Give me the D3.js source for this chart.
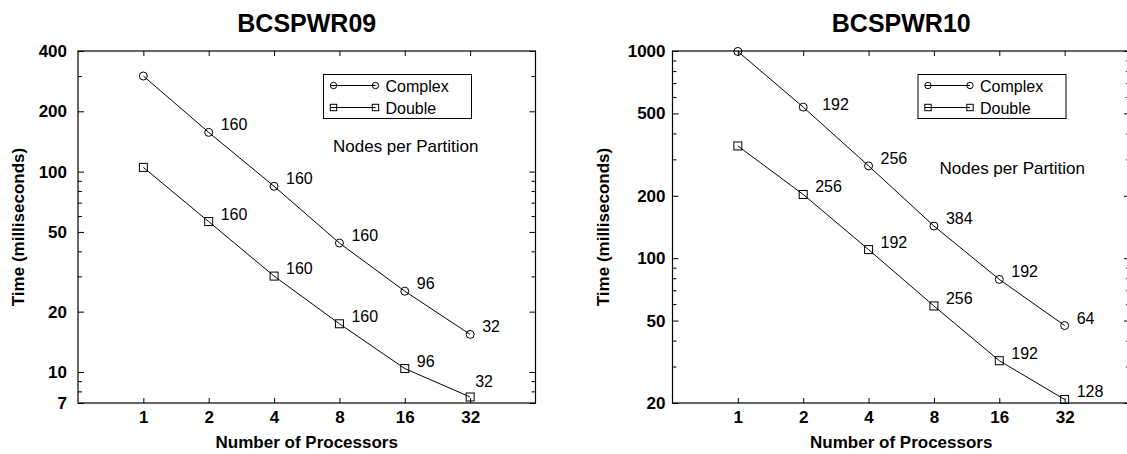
<!DOCTYPE html>
<html>
<head>
<meta charset="utf-8">
<script src="https://cdn.jsdelivr.net/npm/d3@7"></script>
<style>
  body { margin: 0; background: #fff; }
  text { font-family: "Liberation Sans", Arial, Helvetica, sans-serif; }
</style>
</head>
<body>
<script>
// processor counts along the x axis
var processors = [1, 2, 4, 8, 16, 32];

// BCSPWR09 timings (ms) and nodes per partition
var complex09 = [300, 157, 84.5, 44, 25.3, 15.4];
var double09 = [105, 56.3, 30.1, 17.4, 10.4, 7.5];
var complex09Nodes = ["", "160", "160", "160", "96", "32"];
var double09Nodes = ["", "160", "160", "160", "96", "32"];
var yTicks09 = [7, 10, 20, 50, 100, 200, 400];

// BCSPWR10 timings (ms) and nodes per partition
var complex10 = [995, 536, 279, 143, 79, 47.3];
var double10 = [348, 203, 110, 58.8, 32, 20.8];
var complex10Nodes = ["", "192", "256", "384", "192", "64"];
var double10Nodes = ["", "256", "192", "256", "192", "128"];
var yTicks10 = [20, 50, 100, 200, 500, 1000];

var width = 1127;
var height = 454;
var plotTop = 51;
var plotHeight = 352;
var plotWidth = 457.5;

// a few node labels sit off the usual spot (pixel shifts by point index)
var charts = [
  { title: "BCSPWR09", left: 78, yMin: 7, yMax: 400, yTicks: yTicks09,
    complex: complex09, double: double09,
    complexNodes: complex09Nodes, doubleNodes: double09Nodes,
    complexShift: {}, doubleShift: { 5: [-7, -8] },
    tickPad: 11, yTitleX: 23.5, noteDx: 255, noteY: 151.5 },
  { title: "BCSPWR10", left: 672.5, yMin: 20, yMax: 1000, yTicks: yTicks10,
    complex: complex10, double: double10,
    complexNodes: complex10Nodes, doubleNodes: double10Nodes,
    complexShift: { 1: [7, 5] }, doubleShift: {},
    tickPad: 7, yTitleX: 608.5, noteDx: 267, noteY: 173.5 }
];

var svg = d3.select("body")
  .append("svg")
  .attr("width", width)
  .attr("height", height);

svg.append("rect")
  .attr("width", width)
  .attr("height", height)
  .attr("fill", "#fff");

charts.forEach(drawChart);

// every 1..9 multiple of each decade inside the domain
function logTicks(lo, hi) {
  var out = [];
  for (var p = Math.floor(Math.log10(lo)); p <= Math.ceil(Math.log10(hi)); p++) {
    for (var m = 1; m <= 9; m++) {
      var v = m * Math.pow(10, p);
      if (v >= lo - 1e-9 && v <= hi + 1e-9) out.push(v);
    }
  }
  return out;
}

function styleAxis(g, size, weight) {
  g.attr("font-family", null).attr("font-size", null);
  g.select(".domain").remove();
  g.selectAll(".tick line").attr("stroke", "#000").attr("stroke-width", 1);
  g.selectAll(".tick text")
    .attr("fill", "#000")
    .attr("font-size", size)
    .attr("font-weight", weight);
}

function drawChart(c) {
  var x = d3.scaleLog().base(2)
    .domain([0.5, 64])
    .range([c.left, c.left + plotWidth]);
  var y = d3.scaleLog()
    .domain([c.yMin, c.yMax])
    .range([plotTop + plotHeight, plotTop]);

  var g = svg.append("g");
  var allTicks = logTicks(c.yMin, c.yMax);
  var isMajor = function(d) { return c.yTicks.indexOf(d) >= 0; };

  // y axis, left (labelled) and right (mirror)
  var yLeft = g.append("g")
    .attr("transform", "translate(" + c.left + ",0)")
    .call(d3.axisLeft(y)
      .tickValues(allTicks)
      .tickSizeInner(-6)
      .tickSizeOuter(0)
      .tickPadding(c.tickPad)
      .tickFormat(function(d) { return isMajor(d) ? d : ""; }));
  styleAxis(yLeft, "17px", "bold");
  yLeft.selectAll(".tick line")
    .attr("x2", function(d) { return isMajor(d) ? 6 : 4; });

  var yRight = g.append("g")
    .attr("transform", "translate(" + (c.left + plotWidth) + ",0)")
    .call(d3.axisRight(y)
      .tickValues(allTicks)
      .tickSizeInner(-6)
      .tickSizeOuter(0)
      .tickFormat(""));
  styleAxis(yRight, "17px", "bold");
  yRight.selectAll(".tick line")
    .attr("x2", function(d) { return isMajor(d) ? -6 : -4; });

  // x axis, bottom (labelled) and top (mirror)
  var xBottom = g.append("g")
    .attr("transform", "translate(0," + (plotTop + plotHeight) + ")")
    .call(d3.axisBottom(x)
      .tickValues(processors)
      .tickSizeInner(-5)
      .tickSizeOuter(0)
      .tickPadding(8)
      .tickFormat(d3.format("d")));
  styleAxis(xBottom, "17px", "bold");

  var xTop = g.append("g")
    .attr("transform", "translate(0," + plotTop + ")")
    .call(d3.axisTop(x)
      .tickValues(processors)
      .tickSizeInner(-5)
      .tickSizeOuter(0)
      .tickFormat(""));
  styleAxis(xTop, "17px", "bold");

  // frame
  g.append("rect")
    .attr("x", c.left)
    .attr("y", plotTop)
    .attr("width", plotWidth)
    .attr("height", plotHeight)
    .attr("fill", "none")
    .attr("stroke", "#000")
    .attr("stroke-width", 1.2);

  // titles
  g.append("text")
    .text(c.title)
    .attr("x", c.left + plotWidth / 2)
    .attr("y", 32)
    .attr("text-anchor", "middle")
    .attr("font-size", "25px")
    .attr("font-weight", "bold");

  g.append("text")
    .text("Number of Processors")
    .attr("x", c.left + plotWidth / 2)
    .attr("y", 447.5)
    .attr("text-anchor", "middle")
    .attr("font-size", "17px")
    .attr("font-weight", "bold");

  g.append("text")
    .text("Time (milliseconds)")
    .attr("transform", "translate(" + c.yTitleX + "," + (plotTop + plotHeight / 2) + ") rotate(-90)")
    .attr("text-anchor", "middle")
    .attr("font-size", "17px")
    .attr("font-weight", "bold");

  // series
  var line = d3.line()
    .x(function(d) { return x(d[0]); })
    .y(function(d) { return y(d[1]); });

  var series = [
    { values: c.complex, nodes: c.complexNodes, shift: c.complexShift, shape: "circle" },
    { values: c.double, nodes: c.doubleNodes, shift: c.doubleShift, shape: "square" }
  ];

  series.forEach(function(s) {
    var pts = processors.map(function(p, i) {
      return { p: p, v: s.values[i], label: s.nodes[i], shift: s.shift[i] || [0, 0] };
    });

    g.append("path")
      .datum(pts)
      .attr("d", line.x(function(d) { return x(d.p); }).y(function(d) { return y(d.v); }))
      .attr("fill", "none")
      .attr("stroke", "#000")
      .attr("stroke-width", 1);

    pts.forEach(function(d) {
      drawSymbol(g, s.shape, x(d.p), y(d.v), 4);
    });

    g.selectAll(null)
      .data(pts.filter(function(d) { return d.label !== ""; }))
      .enter()
      .append("text")
      .text(function(d) { return d.label; })
      .attr("x", function(d) { return x(d.p) + 12 + d.shift[0]; })
      .attr("y", function(d) { return y(d.v) - 2 + d.shift[1]; })
      .attr("font-size", "16px");
  });

  // legend
  var lx = c.left + 245.5;
  var ly = 74.5;
  g.append("rect")
    .attr("x", lx)
    .attr("y", ly)
    .attr("width", 148)
    .attr("height", 44)
    .attr("fill", "#fff")
    .attr("stroke", "#000")
    .attr("stroke-width", 1);

  [["Complex", "circle", ly + 11], ["Double", "square", ly + 33]].forEach(function(row) {
    g.append("line")
      .attr("x1", lx + 7)
      .attr("x2", lx + 52)
      .attr("y1", row[2])
      .attr("y2", row[2])
      .attr("stroke", "#000")
      .attr("stroke-width", 1);
    drawSymbol(g, row[1], lx + 10, row[2], 3.2);
    drawSymbol(g, row[1], lx + 52, row[2], 3.2);
    g.append("text")
      .text(row[0])
      .attr("x", lx + 62)
      .attr("y", row[2] + 6)
      .attr("font-size", "16px");
  });

  g.append("text")
    .text("Nodes per Partition")
    .attr("x", c.left + c.noteDx)
    .attr("y", c.noteY)
    .attr("font-size", "17px");
}

function drawSymbol(g, shape, cx, cy, r) {
  if (shape === "circle") {
    g.append("circle")
      .attr("cx", cx)
      .attr("cy", cy)
      .attr("r", r)
      .attr("fill", "none")
      .attr("stroke", "#000")
      .attr("stroke-width", 1);
  } else {
    g.append("rect")
      .attr("x", cx - r)
      .attr("y", cy - r)
      .attr("width", r * 2)
      .attr("height", r * 2)
      .attr("fill", "none")
      .attr("stroke", "#000")
      .attr("stroke-width", 1);
  }
}
</script>
</body>
</html>
